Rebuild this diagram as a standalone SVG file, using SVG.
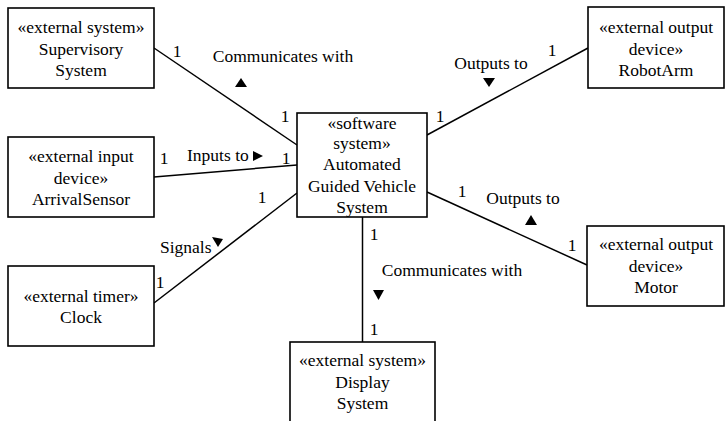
<svg xmlns="http://www.w3.org/2000/svg" width="725" height="421" viewBox="0 0 725 421" font-family="'Liberation Serif', 'Times New Roman', 'DejaVu Serif', serif">
<style>
.box{fill:#fff;stroke:#000;stroke-width:1.6}
.ln{stroke:#000;stroke-width:1.5;fill:none}
text{font-family:'Liberation Serif','Times New Roman','DejaVu Serif',serif;font-size:17.5px;fill:#000}
.c{text-anchor:middle}
.tri{fill:#000}
</style>
<rect width="725" height="421" fill="#fff"/>
<g id="connectors">
<line class="ln" x1="154" y1="48" x2="297" y2="145"/>
<line class="ln" x1="427" y1="135" x2="588" y2="48"/>
<line class="ln" x1="154" y1="177" x2="297" y2="165"/>
<line class="ln" x1="154" y1="303" x2="297" y2="193"/>
<line class="ln" x1="427" y1="192" x2="587" y2="265"/>
<line class="ln" x1="362.5" y1="217" x2="362.5" y2="342"/>
<text x="177" y="57" class="c">1</text>
<text x="285" y="122" class="c">1</text>
<text x="283" y="62" class="c">Communicates with</text>
<polygon class="tri" points="235,87 247,87 241,78"/>
<text x="491" y="69" class="c">Outputs to</text>
<polygon class="tri" points="483,78 495,78 489,87"/>
<text x="552" y="56" class="c">1</text>
<text x="440" y="122" class="c">1</text>
<text x="187" y="161">Inputs to</text>
<polygon class="tri" points="253,151 253,161 263,156"/>
<text x="164" y="164" class="c">1</text>
<text x="286" y="164" class="c">1</text>
<text x="262" y="203" class="c">1</text>
<text x="160" y="253">Signals</text>
<polygon class="tri" points="212,237 223,239 218,247"/>
<text x="160" y="288" class="c">1</text>
<text x="374" y="240" class="c">1</text>
<text x="452" y="276" class="c">Communicates with</text>
<polygon class="tri" points="373,290 384,290 378.5,300"/>
<text x="374" y="335" class="c">1</text>
<text x="462" y="197" class="c">1</text>
<text x="523" y="204" class="c">Outputs to</text>
<polygon class="tri" points="525,225 537,225 531,215"/>
<text x="572" y="251" class="c">1</text>
</g>
<g id="supervisory">
<rect class="box" x="8" y="8" width="146" height="80"/>
<text x="81" y="33" class="c">«external system»</text>
<text x="81" y="55" class="c">Supervisory</text>
<text x="81" y="76" class="c">System</text>
</g>
<g id="robotarm">
<rect class="box" x="588" y="7" width="136" height="81"/>
<text x="656" y="33" class="c">«external output</text>
<text x="656" y="55" class="c">device»</text>
<text x="656" y="76" class="c">RobotArm</text>
</g>
<g id="agvs">
<rect class="box" x="297" y="113" width="130" height="104"/>
<text x="362" y="129" class="c">«software</text>
<text x="362" y="149" class="c">system»</text>
<text x="362" y="170" class="c">Automated</text>
<text x="362" y="192" class="c">Guided Vehicle</text>
<text x="362" y="213" class="c">System</text>
</g>
<g id="arrivalsensor">
<rect class="box" x="8" y="137" width="146" height="80"/>
<text x="81" y="162" class="c">«external input</text>
<text x="81" y="184" class="c">device»</text>
<text x="81" y="205" class="c">ArrivalSensor</text>
</g>
<g id="clock">
<rect class="box" x="8" y="266" width="146" height="80"/>
<text x="81" y="302" class="c">«external timer»</text>
<text x="81" y="323" class="c">Clock</text>
</g>
<g id="motor">
<rect class="box" x="587" y="226" width="137" height="80"/>
<text x="656" y="250" class="c">«external output</text>
<text x="656" y="272" class="c">device»</text>
<text x="656" y="293" class="c">Motor</text>
</g>
<g id="display">
<rect class="box" x="290" y="342" width="145" height="90"/>
<text x="362.5" y="366" class="c">«external system»</text>
<text x="362.5" y="388" class="c">Display</text>
<text x="362.5" y="409" class="c">System</text>
</g>
</svg>
